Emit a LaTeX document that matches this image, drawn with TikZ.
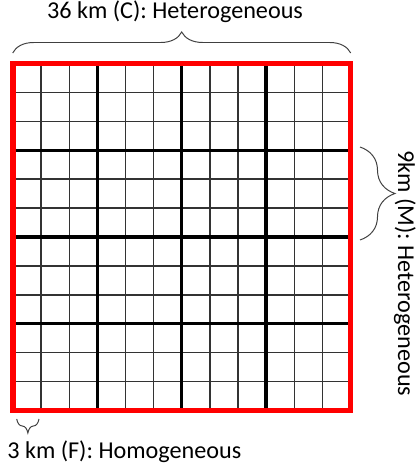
\documentclass[tikz,border=0pt]{standalone}
\usepackage{fontspec}
\setmainfont{Carlito}
\usetikzlibrary{decorations.pathreplacing, calc}
\definecolor{framered}{HTML}{FF0000}
\definecolor{cellgray}{HTML}{333333}
\definecolor{bracegray}{HTML}{404040}
\tikzset{
  fine/.style={draw=cellgray, line width=1.05pt},
  coarse/.style={draw=black, line width=2.4pt},
  frame/.style={draw=framered, line width=4pt},
  curly/.style={draw=bracegray, line width=0.7pt, decorate,
                decoration={brace, amplitude=#1}},
  lbl/.style={font=\fontsize{17.2}{20}\selectfont, inner sep=0pt},
}

\begin{document}
\begin{tikzpicture}[x=0.025cm, y=-0.025cm]
  \useasboundingbox (0,0) rectangle (417,467);
  \coordinate (nw) at (13,63.5);
  \coordinate (ne) at (350.5,63.5);
  \coordinate (sw) at (13,410.5);
  \coordinate (se) at (350.5,410.5);
  \foreach \i in {1,...,11}{
    \draw[fine] ($(nw)!\i/12!(ne)$) -- ($(sw)!\i/12!(se)$);
    \draw[fine] ($(nw)!\i/12!(sw)$) -- ($(ne)!\i/12!(se)$);
  }
  \foreach \i in {3,6,9}{
    \draw[coarse] ($(nw)!\i/12!(ne)$) -- ($(sw)!\i/12!(se)$);
    \draw[coarse] ($(nw)!\i/12!(sw)$) -- ($(ne)!\i/12!(se)$);
  }
  \draw[frame] (nw) rectangle (se);

  \coordinate (cl) at (12.7,53);
  \coordinate (cr) at (350.7,53);
  \coordinate (mt) at (360,147);
  \coordinate (mb) at (360,240);
  \coordinate (fr) at (39,419);
  \coordinate (fl) at (16.7,419);
  \draw[curly=0.525cm] (cl) -- (cr);
  \draw[curly=0.875cm] (mt) -- (mb);
  \draw[curly=0.35cm] (fr) -- (fl);

  \node[lbl, anchor=base] (clbl) at (175,19) {36 km (C): Heterogeneous};
  \node[lbl, rotate=-90, anchor=base west] (mlbl) at (398,150) {9km (M): Heterogeneous};
  \node[lbl, anchor=base west] (flbl) at (7,458) {3 km (F): Homogeneous};
\end{tikzpicture}
\end{document}
